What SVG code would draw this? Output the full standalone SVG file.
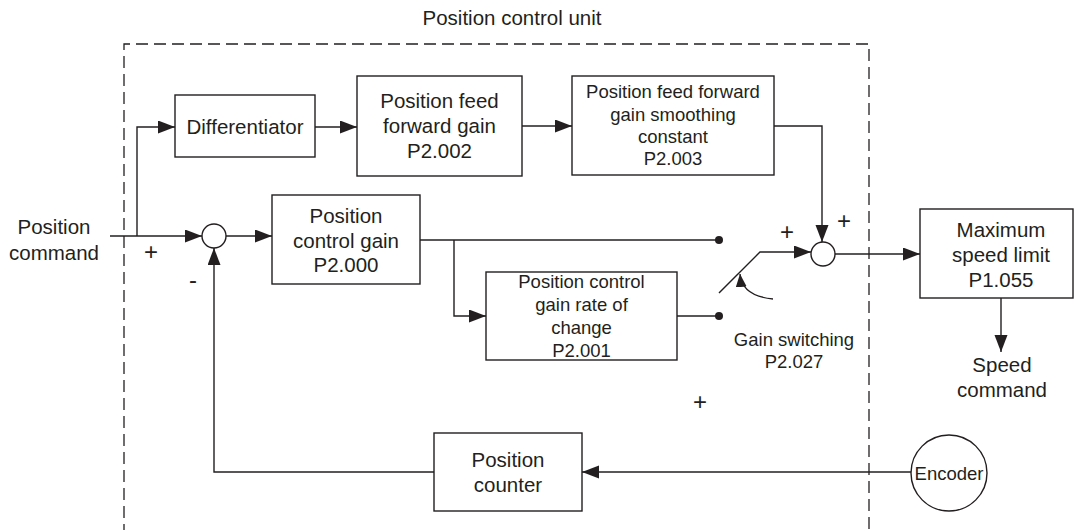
<svg xmlns="http://www.w3.org/2000/svg" width="1074" height="530" viewBox="0 0 1074 530">
<style>
  .box { fill: #ffffff; stroke: #231f20; stroke-width: 1.4; }
  .ln { fill: none; stroke: #231f20; stroke-width: 1.4; }
  .arr { marker-end: url(#ah); }
  .t { font-family: "Liberation Sans", Arial, sans-serif; font-size: 20.5px; fill: #231f20; text-anchor: middle; }
  .s { font-family: "Liberation Sans", Arial, sans-serif; font-size: 18.5px; fill: #231f20; text-anchor: middle; }
  .sg { font-family: "Liberation Sans", Arial, sans-serif; font-size: 24px; fill: #231f20; text-anchor: middle; }
  .dash { fill: none; stroke: #231f20; stroke-width: 1.3; stroke-dasharray: 12 6; }
  .dot { fill: #231f20; }
</style>
<defs>
  <marker id="ah" markerUnits="userSpaceOnUse" markerWidth="18" markerHeight="14" refX="17" refY="6.5" orient="auto">
    <path d="M0,0 L17,6.5 L0,13 z" fill="#231f20"/>
  </marker>
  <marker id="ahs" markerUnits="userSpaceOnUse" markerWidth="14" markerHeight="12" refX="13" refY="5.5" orient="auto">
    <path d="M0,0 L13,5.5 L0,11 z" fill="#231f20"/>
  </marker>
</defs>
<rect width="1074" height="530" fill="#ffffff"/>

<g id="unit">
  <text class="t" x="512" y="25">Position control unit</text>
  <path class="dash" d="M124,536 L124,44 L869,44 L869,536"/>
</g>

<g id="connectors">
  <path class="ln arr" d="M110,236 L202,236"/>
  <path class="ln arr" d="M137,236 L137,127 L175,127"/>
  <path class="ln arr" d="M315,127 L357,127"/>
  <path class="ln arr" d="M522,126 L572,126"/>
  <path class="ln arr" d="M774,126 L822,126 L822,242"/>
  <path class="ln arr" d="M226,236 L272,236"/>
  <path class="ln" d="M420,240 L719,240"/>
  <path class="ln arr" d="M454,240 L454,316 L486,316"/>
  <path class="ln" d="M677,316 L719,316"/>
  <path class="ln arr" d="M719,293 L760,252 L811,252"/>
  <path class="ln" d="M773,299 Q742,296 740,274" marker-end="url(#ahs)"/>
  <path class="ln arr" d="M835,254 L920,254"/>
  <path class="ln arr" d="M1001,298 L1001,352"/>
  <path class="ln arr" d="M911,472 L582,472"/>
  <path class="ln arr" d="M434,472 L214,472 L214,248"/>
  <circle class="dot" cx="719" cy="240" r="4"/>
  <circle class="dot" cx="719" cy="316" r="4"/>
</g>

<g id="position-command">
  <text class="t" x="54" y="234">Position</text>
  <text class="t" x="54" y="260">command</text>
  <text class="sg" x="151" y="260">+</text>
  <text class="sg" x="193" y="288">-</text>
</g>

<g id="sum1">
  <circle class="box" cx="214" cy="236" r="12"/>
</g>

<g id="differentiator">
  <rect class="box" x="175" y="95" width="140" height="62"/>
  <text class="t" x="245" y="134">Differentiator</text>
</g>

<g id="ff-gain">
  <rect class="box" x="357" y="76" width="165" height="100"/>
  <text class="t" x="439.5" y="108">Position feed</text>
  <text class="t" x="439.5" y="133">forward gain</text>
  <text class="t" x="439.5" y="158">P2.002</text>
</g>

<g id="ff-smoothing">
  <rect class="box" x="572" y="76" width="202" height="99"/>
  <text class="s" x="673" y="98">Position feed forward</text>
  <text class="s" x="673" y="120.5">gain smoothing</text>
  <text class="s" x="673" y="143">constant</text>
  <text class="s" x="673" y="165">P2.003</text>
</g>

<g id="pos-gain">
  <rect class="box" x="272" y="195" width="148" height="89"/>
  <text class="t" x="346" y="223">Position</text>
  <text class="t" x="346" y="247.5">control gain</text>
  <text class="t" x="346" y="272">P2.000</text>
</g>

<g id="gain-rate">
  <rect class="box" x="486" y="272" width="191" height="88"/>
  <text class="s" x="581.5" y="288">Position control</text>
  <text class="s" x="581.5" y="311">gain rate of</text>
  <text class="s" x="581.5" y="334">change</text>
  <text class="s" x="581.5" y="357">P2.001</text>
</g>

<g id="gain-switching">
  <text class="s" x="794" y="346">Gain switching</text>
  <text class="s" x="794" y="368">P2.027</text>
  <text class="sg" x="787" y="240">+</text>
  <text class="sg" x="844" y="229">+</text>
  <text class="sg" x="700" y="410">+</text>
</g>

<g id="sum2">
  <circle class="box" cx="823" cy="254" r="12"/>
</g>

<g id="max-speed">
  <rect class="box" x="920" y="209" width="153" height="89"/>
  <text class="t" x="1001" y="237">Maximum</text>
  <text class="t" x="1001" y="262">speed limit</text>
  <text class="t" x="1001" y="287">P1.055</text>
</g>

<g id="speed-command">
  <text class="t" x="1002" y="372">Speed</text>
  <text class="t" x="1002" y="397">command</text>
</g>

<g id="position-counter">
  <rect class="box" x="434" y="433" width="148" height="78"/>
  <text class="t" x="508" y="467">Position</text>
  <text class="t" x="508" y="492">counter</text>
</g>

<g id="encoder">
  <circle class="box" cx="949" cy="473" r="38"/>
  <text class="s" x="949" y="480">Encoder</text>
</g>
</svg>
